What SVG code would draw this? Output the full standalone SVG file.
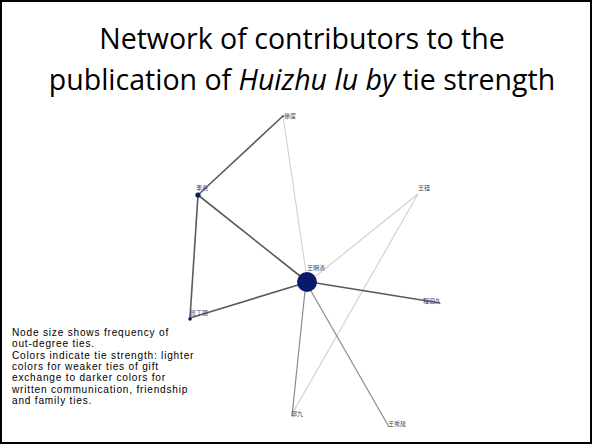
<svg xmlns="http://www.w3.org/2000/svg" width="592" height="444" viewBox="0 0 592 444">
<style>
.title{font-family:"Open Sans","Liberation Sans",sans-serif;font-size:28.5px;fill:#000;text-anchor:middle}
.cap{font-family:"Liberation Sans",Arial,sans-serif;font-size:10.1px;letter-spacing:0.8px;fill:#000}
.lbl{font-family:"Noto Sans CJK SC",sans-serif;font-size:6px;fill:#3a3a6a}
.node{fill:#0a1a6a}
.strong{stroke:#5a5a5a;stroke-width:1.6;fill:none}
.mid{stroke:#8a8a8a;stroke-width:1.2;fill:none}
.weak{stroke:#cfcfcf;stroke-width:1.1;fill:none}
</style>
<rect x="0" y="0" width="592" height="444" fill="#fff"/>
<rect x="1" y="1" width="590" height="442" fill="none" stroke="#000" stroke-width="2"/>
<text class="title" x="302" y="49">Network of contributors to the</text>
<text class="title" x="302" y="90">publication of <tspan font-style="italic">Huizhu lu by</tspan> tie strength</text>
<g id="edges">
<line class="weak" x1="283" y1="116" x2="306" y2="272"/>
<line class="weak" x1="418" y1="194" x2="316" y2="276"/>
<line class="weak" x1="418" y1="194" x2="292" y2="414"/>
<line class="strong" x1="283" y1="116" x2="198" y2="195"/>
<line class="strong" x1="198" y1="195" x2="300" y2="276"/>
<line class="strong" x1="198" y1="195" x2="190" y2="318"/>
<line class="strong" x1="190" y1="318" x2="298" y2="285"/>
<line class="strong" x1="316" y1="283" x2="440" y2="303"/>
<line class="mid" x1="305" y1="291" x2="292" y2="416"/>
<line class="mid" x1="311" y1="291" x2="389" y2="427"/>
</g>
<g id="n-wang-mingqing"><circle class="node" cx="307" cy="282" r="10"/><text class="lbl" x="307" y="270">王明清</text></g>
<g id="n-xu"><circle class="node" cx="283" cy="116" r="0.8"/><text class="lbl" x="284" y="118">徐度</text></g>
<g id="n-li"><circle class="node" cx="198" cy="195" r="2.6"/><text class="lbl" x="196" y="190">李焘</text></g>
<g id="n-wang-top"><text class="lbl" x="418" y="190">王铚</text></g>
<g id="n-gu"><circle class="node" cx="190" cy="319" r="1.8"/><text class="lbl" x="190" y="315">曾丁丽</text></g>
<g id="n-cheng"><text class="lbl" x="423" y="303">程迥久</text></g>
<g id="n-guo"><text class="lbl" x="291" y="416">郭九</text></g>
<g id="n-wang-bottom"><text class="lbl" x="388" y="426">王秀建</text></g>
<g id="caption">
<text class="cap" x="12" y="336">Node size shows frequency of</text>
<text class="cap" x="12" y="347.33">out-degree ties.</text>
<text class="cap" x="12" y="358.67">Colors indicate tie strength: lighter</text>
<text class="cap" x="12" y="370">colors for weaker ties of gift</text>
<text class="cap" x="12" y="381.33">exchange to darker colors for</text>
<text class="cap" x="12" y="392.67">written communication, friendship</text>
<text class="cap" x="12" y="404">and family ties.</text>
</g>
</svg>
